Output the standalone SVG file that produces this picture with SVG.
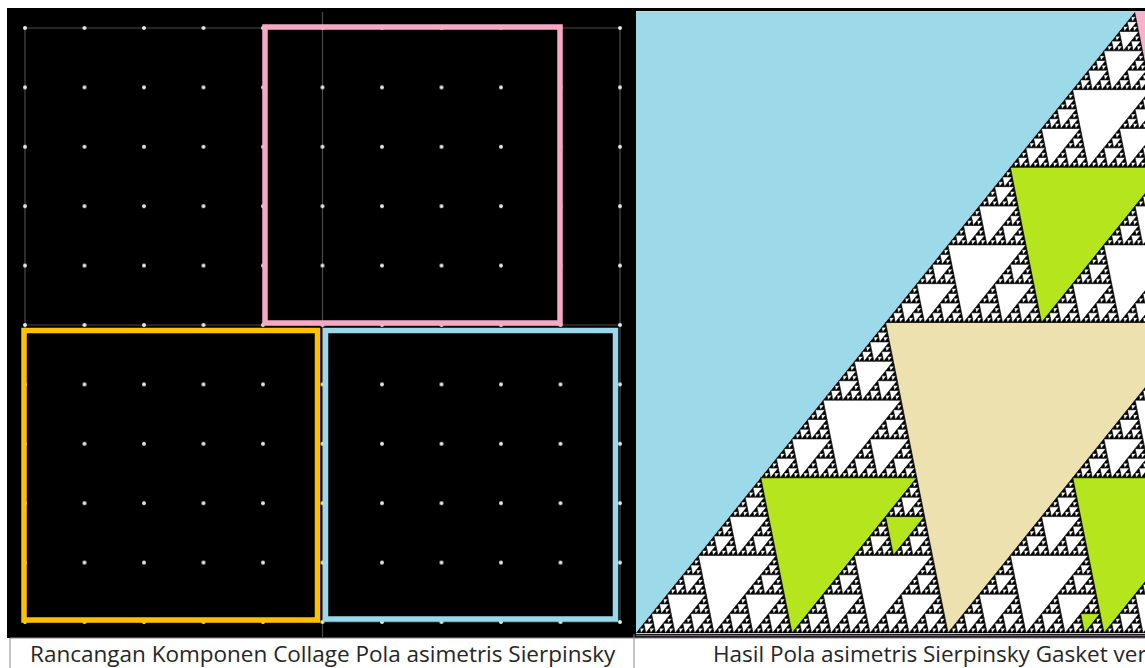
<svg xmlns="http://www.w3.org/2000/svg" xmlns:xlink="http://www.w3.org/1999/xlink" width="1145" height="668" viewBox="0 0 1145 668">
  <style>
    .grid { stroke: #4a4a4a; stroke-width: 1.2; fill: none; }
    .sq { fill: none; stroke-width: 5.5; }
    .cap { font-family: "Open Sans", "Liberation Sans", sans-serif; font-size: 22.5px; fill: #262626; }
    .hole { fill: #ffffff; stroke: #000000; stroke-width: 0.6; vector-effect: non-scaling-stroke; }
    .green { fill: #b5e61d; stroke: #000000; stroke-width: 0.8; }
  </style>
  <defs>
    <pattern id="dots" patternUnits="userSpaceOnUse" x="-4.75" y="-1.7" width="59.5" height="59.4">
      <circle cx="29.75" cy="29.7" r="2" fill="#e8e8e8"/>
    </pattern>
    <clipPath id="rightClip">
      <rect x="636" y="11" width="509" height="623"/>
    </clipPath>
    <polygon id="d0" class="hole" points="249.5,-310.5 561.5,-310.5 312,0"/>
    <g id="d1"><use href="#d0"/><use href="#d0" transform="scale(.5)"/><use href="#d0" transform="translate(249.5 -310.5) scale(.5)"/><use href="#d0" transform="translate(312 0) scale(.5)"/></g>
    <g id="d2"><use href="#d0"/><use href="#d1" transform="scale(.5)"/><use href="#d1" transform="translate(249.5 -310.5) scale(.5)"/><use href="#d1" transform="translate(312 0) scale(.5)"/></g>
    <g id="d3"><use href="#d0"/><use href="#d2" transform="scale(.5)"/><use href="#d2" transform="translate(249.5 -310.5) scale(.5)"/><use href="#d2" transform="translate(312 0) scale(.5)"/></g>
    <g id="d4"><use href="#d0"/><use href="#d3" transform="scale(.5)"/><use href="#d3" transform="translate(249.5 -310.5) scale(.5)"/><use href="#d3" transform="translate(312 0) scale(.5)"/></g>
    <g id="d5"><use href="#d0"/><use href="#d4" transform="scale(.5)"/><use href="#d4" transform="translate(249.5 -310.5) scale(.5)"/><use href="#d4" transform="translate(312 0) scale(.5)"/></g>
    <g id="d6"><use href="#d0"/><use href="#d5" transform="scale(.5)"/><use href="#d5" transform="translate(249.5 -310.5) scale(.5)"/><use href="#d5" transform="translate(312 0) scale(.5)"/></g>
  </defs>

  <rect x="0" y="0" width="1145" height="668" fill="#ffffff"/>

  <!-- Left panel: collage design grid -->
  <g id="left-panel">
    <rect x="7" y="8" width="627" height="630" fill="#000000"/>
    <path class="grid" d="M25 28 V622 M620 28 V622 M322.5 12 V637 M25 28 H620 M25 325 H620 M25 622 H620"/>
    <rect x="20" y="23" width="606" height="605" fill="url(#dots)"/>
  </g>

  <g id="pink-square">
    <rect class="sq" x="265" y="27" width="295" height="296" stroke="#f6a9c6"/>
  </g>
  <g id="yellow-square">
    <rect class="sq" x="24" y="330.5" width="293.5" height="289.5" stroke="#ffc000"/>
  </g>
  <g id="blue-square">
    <rect class="sq" x="325.5" y="330.5" width="290" height="288.5" stroke="#9ad8ea"/>
  </g>

  <g id="connectors"/>

  <!-- Right panel: resulting asymmetric Sierpinski gasket -->
  <g id="right-panel">
    <rect x="630" y="8" width="515" height="630" fill="#000000"/>
    <g clip-path="url(#rightClip)">
      <rect x="636" y="11" width="509" height="623" fill="#9ddae9"/>
      <line x1="636" y1="11.5" x2="1145" y2="11.5" stroke="#c8d4d8" stroke-width="1"/>
      <polygon points="1134,11 1146,11 1146,66" fill="#f7b1cb"/>
      <g transform="translate(636 633)">
        <polygon points="0,0 624,0 499,-621" fill="#000000"/>
        <use href="#d6"/>
        <polygon points="249.5,-310.5 561.5,-310.5 312,0" fill="#eee1b0" stroke="#000000" stroke-width="0.8"/>
        <polygon class="green" points="124.75,-155.25 280.75,-155.25 156,0"/>
        <polygon class="green" points="374.25,-465.75 530.25,-465.75 405.5,-310.5"/>
        <polygon class="green" points="436.75,-155.25 592.75,-155.25 468,0"/>
        <polygon class="green" points="249.56,-116.44 288.56,-116.44 257.38,-77.63"/>
        <polygon class="green" points="444.6,-19.4 464.1,-19.4 448.5,0"/>
      </g>
    </g>
    <line x1="636" y1="635.5" x2="1145" y2="635.5" stroke="#6e6e6e" stroke-width="1.5"/>
  </g>

  <!-- Caption row -->
  <g id="captions">
    <path d="M10 638 H1145 M10 638 V668 M634 634 V668" stroke="#8a8a8a" stroke-width="1" fill="none"/>
    <text class="cap" x="30" y="662">Rancangan Komponen Collage Pola asimetris Sierpinsky</text>
    <text class="cap" x="713" y="662">Hasil Pola asimetris Sierpinsky Gasket ver</text>
  </g>
</svg>
